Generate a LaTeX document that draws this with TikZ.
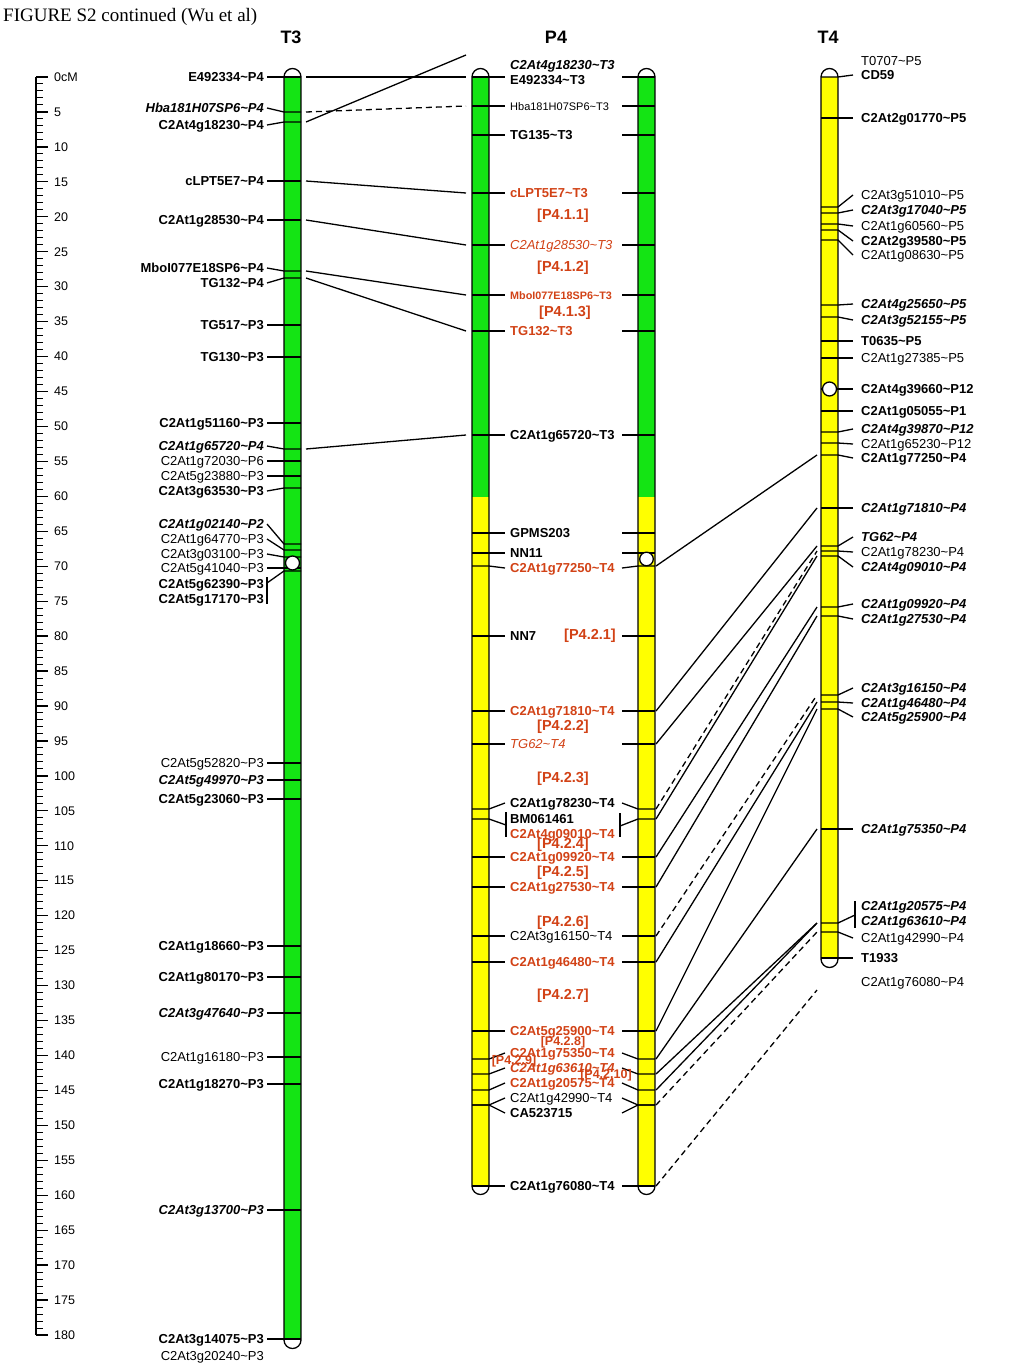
\documentclass[tikz,border=0pt]{standalone}
\usepackage{fontspec}
\setmainfont{Liberation Sans}
\newfontfamily\titlefont{Liberation Serif}
\newcommand\tld{\textasciitilde}
\definecolor{qred}{RGB}{210,66,22}
\definecolor{cgreen}{RGB}{20,228,20}
\definecolor{cyellow}{RGB}{255,255,0}
\tikzset{
 conn/.style={line width=1.3pt, black},
 dconn/.style={line width=1.3pt, black, dash pattern=on 6pt off 4pt},
 barline/.style={line width=1.3pt, black},
 mrg/.style={inner sep=0pt, font=\fontsize{13}{15}\selectfont},
 mbd/.style={inner sep=0pt, font=\fontsize{13}{15}\selectfont\bfseries},
 mbi/.style={inner sep=0pt, font=\fontsize{13}{15}\selectfont\bfseries\itshape},
 mit/.style={inner sep=0pt, font=\fontsize{13}{15}\selectfont\itshape},
 mrgs/.style={inner sep=0pt, font=\fontsize{11}{13}\selectfont},
 mbds/.style={inner sep=0pt, font=\fontsize{10.8}{13}\selectfont\bfseries},
 grp/.style={inner sep=0pt, text=qred, font=\fontsize{14.5}{16}\selectfont\bfseries},
 grps/.style={inner sep=0pt, text=qred, font=\fontsize{12.5}{14}\selectfont\bfseries},
 head/.style={inner sep=0pt, font=\fontsize{18}{20}\selectfont\bfseries, anchor=base},
 rul/.style={inner sep=0pt, font=\fontsize{12.5}{14}\selectfont, anchor=west},
}
% T3 marker: id, labelY, barY, style, text
\newcommand\mkTthree[5]{%
 \node[#4, anchor=base east] (t3#1) at (264,#2+4.6) {#5};
 \draw[conn] (267,#2) -- (284,#3) -- (301,#3);
 \coordinate (t3#1c) at (306,#3);}
% P4 marker
\newcommand\mkPfour[5]{%
 \node[#4, anchor=base west] (p4#1) at (510,#2+4.6) {#5};
 \draw[conn] (472,#3) -- (489,#3) -- (505,#2);
 \draw[conn] (622,#2) -- (638,#3) -- (655,#3);
 \coordinate (p4#1l) at (466,#3);
 \coordinate (p4#1r) at (656,#3);}
% T4 marker
\newcommand\mkTfour[5]{%
 \node[#4, anchor=base west] (t4#1) at (861,#2+4.6) {#5};
 \draw[conn] (821,#3) -- (838,#3) -- (853,#2);
 \coordinate (t4#1c) at (817,#3);}

\begin{document}
\begin{tikzpicture}[x=1pt,y=-1pt]
\useasboundingbox (0,0) rectangle (1024,1365);
\fill[white] (0,0) rectangle (1024,1365);

\node[anchor=base west, inner sep=0pt, font=\titlefont\fontsize{19}{21}\selectfont] (title) at (3,21) {FIGURE S2 continued (Wu et al)};
\node[head] (hT3) at (291,43) {T3};
\node[head] (hP4) at (556,43) {P4};
\node[head] (hT4) at (828,43) {T4};

% ruler
\draw[line width=1.4pt] (36,77) -- (36,1335);
\foreach \i in {0,...,180}{\pgfmathsetmacro\yy{77+\i*6.9889}\draw[line width=1pt] (36,\yy) -- (43,\yy);}
\foreach \i in {0,5,...,180}{\pgfmathsetmacro\yy{77+\i*6.9889}
  \draw[line width=1.3pt] (36,\yy) -- (48,\yy);
  \ifnum\i=0 \node[rul] (rl\i) at (54,\yy) {0cM};\else \node[rul] (rl\i) at (54,\yy) {\i};\fi}

% ---------- bars (fills) ----------
\fill[white] (284,77) arc[start angle=180,end angle=360,radius=8.5] -- (301,1340) arc[start angle=0,end angle=180,radius=8.5] -- cycle;
\fill[cgreen] (284,77) rectangle (301,1340);
\foreach \xl/\xr in {472/489,638/655}{
 \fill[white] (\xl,77) arc[start angle=180,end angle=360,radius=8.5] -- (\xr,1186) arc[start angle=0,end angle=180,radius=8.5] -- cycle;
 \fill[cgreen] (\xl,77) rectangle (\xr,497);
 \fill[cyellow] (\xl,497) rectangle (\xr,1186);}
\fill[white] (821,77) arc[start angle=180,end angle=360,radius=8.5] -- (838,959) arc[start angle=0,end angle=180,radius=8.5] -- cycle;
\fill[cyellow] (821,77) rectangle (838,959);

% ---------- T3 markers ----------
\mkTthree{a}{77}{77}{mbd}{E492334\tld P4}
\mkTthree{b}{108}{112}{mbi}{Hba181H07SP6\tld P4}
\mkTthree{c}{125}{122}{mbd}{C2At4g18230\tld P4}
\mkTthree{d}{181}{181}{mbd}{cLPT5E7\tld P4}
\mkTthree{e}{220}{220}{mbd}{C2At1g28530\tld P4}
\mkTthree{f}{268}{271}{mbd}{MboI077E18SP6\tld P4}
\mkTthree{g}{283}{278}{mbd}{TG132\tld P4}
\mkTthree{h}{325}{325}{mbd}{TG517\tld P3}
\mkTthree{i}{357}{357}{mbd}{TG130\tld P3}
\mkTthree{j}{423}{423}{mbd}{C2At1g51160\tld P3}
\mkTthree{k}{446}{449}{mbi}{C2At1g65720\tld P4}
\mkTthree{l}{461}{461}{mrg}{C2At1g72030\tld P6}
\mkTthree{m}{476}{476}{mrg}{C2At5g23880\tld P3}
\mkTthree{n}{491}{488}{mbd}{C2At3g63530\tld P3}
\mkTthree{o}{524}{544}{mbi}{C2At1g02140\tld P2}
\mkTthree{p}{539}{550}{mrg}{C2At1g64770\tld P3}
\mkTthree{q}{554}{557}{mrg}{C2At3g03100\tld P3}
\mkTthree{r}{568}{568}{mrg}{C2At5g41040\tld P3}
\node[mbd, anchor=base east] (t3sa) at (264,584+4.6) {C2At5g62390\tld P3};
\node[mbd, anchor=base east] (t3sb) at (264,599+4.6) {C2At5g17170\tld P3};
\draw[conn] (267,577) -- (267,604);
\draw[conn] (267,583) -- (284,571) -- (301,571);
\mkTthree{t}{763}{763}{mrg}{C2At5g52820\tld P3}
\mkTthree{u}{780}{780}{mbi}{C2At5g49970\tld P3}
\mkTthree{v}{799}{799}{mbd}{C2At5g23060\tld P3}
\mkTthree{w}{946}{946}{mbd}{C2At1g18660\tld P3}
\mkTthree{x}{977}{977}{mbd}{C2At1g80170\tld P3}
\mkTthree{y}{1013}{1013}{mbi}{C2At3g47640\tld P3}
\mkTthree{z}{1057}{1057}{mrg}{C2At1g16180\tld P3}
\mkTthree{A}{1084}{1084}{mbd}{C2At1g18270\tld P3}
\mkTthree{B}{1210}{1210}{mbi}{C2At3g13700\tld P3}
\mkTthree{C}{1339}{1339}{mbd}{C2At3g14075\tld P3}
\node[mrg, anchor=base east] (t3D) at (264,1356+4.6) {C2At3g20240\tld P3};

% ---------- P4 markers ----------
\node[mbi, anchor=base west] (p4top) at (510,65+4.6) {C2At4g18230\tld T3};
\coordinate (p4topl) at (466,55);
\node[mbd, anchor=base west] (p4a) at (510,80+4.6) {E492334\tld T3};
\draw[conn] (472,77) -- (505,77);
\draw[conn] (622,77) -- (655,77);
\coordinate (p4al) at (466,77);
\mkPfour{b}{106}{106}{mrgs}{Hba181H07SP6\tld T3}
\mkPfour{c}{135}{135}{mbd}{TG135\tld T3}
\mkPfour{d}{193}{193}{mbd,text=qred}{cLPT5E7\tld T3}
\mkPfour{e}{245}{245}{mit,text=qred}{C2At1g28530\tld T3}
\mkPfour{f}{295}{295}{mbds,text=qred}{MboI077E18SP6\tld T3}
\mkPfour{g}{331}{331}{mbd,text=qred}{TG132\tld T3}
\mkPfour{h}{435}{435}{mbd}{C2At1g65720\tld T3}
\mkPfour{i}{533}{533}{mbd}{GPMS203}
\mkPfour{j}{553}{553}{mbd}{NN11}
\mkPfour{k}{568}{566}{mbd,text=qred}{C2At1g77250\tld T4}
\mkPfour{l}{636}{636}{mbd}{NN7}
\mkPfour{m}{711}{711}{mbd,text=qred}{C2At1g71810\tld T4}
\mkPfour{n}{744}{744}{mit,text=qred}{TG62\tld T4}
\mkPfour{o}{803}{809}{mbd}{C2At1g78230\tld T4}
\node[mbd, anchor=base west] (p4pa) at (510,819+4.6) {BM061461};
\node[mbd, text=qred, anchor=base west] (p4pb) at (510,834+4.6) {C2At4g09010\tld T4};
\draw[conn] (506,812) -- (506,837);
\draw[conn] (472,819) -- (489,819) -- (506,825);
\draw[conn] (620,813) -- (620,837);
\draw[conn] (620,826) -- (638,819) -- (655,819);
\coordinate (p4pr) at (656,819);
\mkPfour{q}{857}{857}{mbd,text=qred}{C2At1g09920\tld T4}
\mkPfour{r}{887}{887}{mbd,text=qred}{C2At1g27530\tld T4}
\mkPfour{s}{936}{936}{mrg}{C2At3g16150\tld T4}
\mkPfour{t}{962}{962}{mbd,text=qred}{C2At1g46480\tld T4}
\mkPfour{u}{1031}{1031}{mbd,text=qred}{C2At5g25900\tld T4}
\mkPfour{v}{1053}{1059}{mbd,text=qred}{C2At1g75350\tld T4}
\mkPfour{w}{1068}{1074}{mbi,text=qred}{C2At1g63610\tld T4}
\mkPfour{x}{1083}{1090}{mbd,text=qred}{C2At1g20575\tld T4}
\mkPfour{y}{1098}{1105}{mrg}{C2At1g42990\tld T4}
\mkPfour{z}{1113}{1105}{mbd}{CA523715}
\mkPfour{aa}{1186}{1186}{mbd}{C2At1g76080\tld T4}

\node[grp] (g411) at (563,216) {[P4.1.1]};
\node[grp] (g412) at (563,268) {[P4.1.2]};
\node[grp] (g413) at (565,313) {[P4.1.3]};
\node[grp] (g421) at (590,636) {[P4.2.1]};
\node[grp] (g422) at (563,727) {[P4.2.2]};
\node[grp] (g423) at (563,779) {[P4.2.3]};
\node[grp] (g424) at (563,845) {[P4.2.4]};
\node[grp] (g425) at (563,873) {[P4.2.5]};
\node[grp] (g426) at (563,923) {[P4.2.6]};
\node[grp] (g427) at (563,996) {[P4.2.7]};
\node[grps] (g428) at (563,1042) {[P4.2.8]};
\node[grps] (g429) at (514,1061) {[P4.2.9]};
\node[grps] (g4210) at (606,1075) {[P4.2.10]};

% ---------- T4 markers ----------
\node[mrg, anchor=base west] (t4top) at (861,61+4.6) {T0707\tld P5};
\mkTfour{a}{75}{77}{mbd}{CD59}
\mkTfour{b}{118}{118}{mbd}{C2At2g01770\tld P5}
\mkTfour{c}{195}{207}{mrg}{C2At3g51010\tld P5}
\mkTfour{d}{210}{213}{mbi}{C2At3g17040\tld P5}
\mkTfour{e}{226}{224}{mrg}{C2At1g60560\tld P5}
\mkTfour{f}{241}{230}{mbd}{C2At2g39580\tld P5}
\mkTfour{g}{255}{240}{mrg}{C2At1g08630\tld P5}
\mkTfour{h}{304}{305}{mbi}{C2At4g25650\tld P5}
\mkTfour{i}{320}{317}{mbi}{C2At3g52155\tld P5}
\mkTfour{j}{341}{341}{mbd}{T0635\tld P5}
\mkTfour{k}{358}{358}{mrg}{C2At1g27385\tld P5}
\mkTfour{l}{389}{389}{mbd}{C2At4g39660\tld P12}
\mkTfour{m}{411}{411}{mbd}{C2At1g05055\tld P1}
\mkTfour{n}{429}{432}{mbi}{C2At4g39870\tld P12}
\mkTfour{o}{444}{443}{mrg}{C2At1g65230\tld P12}
\mkTfour{p}{458}{455}{mbd}{C2At1g77250\tld P4}
\mkTfour{q}{508}{508}{mbi}{C2At1g71810\tld P4}
\mkTfour{r}{537}{546}{mbi}{TG62\tld P4}
\mkTfour{s}{552}{551}{mrg}{C2At1g78230\tld P4}
\mkTfour{t}{567}{556}{mbi}{C2At4g09010\tld P4}
\mkTfour{u}{604}{607}{mbi}{C2At1g09920\tld P4}
\mkTfour{v}{619}{616}{mbi}{C2At1g27530\tld P4}
\mkTfour{w}{688}{695}{mbi}{C2At3g16150\tld P4}
\mkTfour{x}{703}{702}{mbi}{C2At1g46480\tld P4}
\mkTfour{y}{717}{709}{mbi}{C2At5g25900\tld P4}
\mkTfour{z}{829}{829}{mbi}{C2At1g75350\tld P4}
\node[mbi, anchor=base west] (t4Aa) at (861,906+4.6) {C2At1g20575\tld P4};
\node[mbi, anchor=base west] (t4Ab) at (861,921+4.6) {C2At1g63610\tld P4};
\draw[conn] (855,901) -- (855,928);
\draw[conn] (855,915) -- (838,923) -- (821,923);
\coordinate (t4Ac) at (817,923);
\mkTfour{B}{938}{932}{mrg}{C2At1g42990\tld P4}
\mkTfour{C}{958}{958}{mbd}{T1933}
\node[mrg, anchor=base west] (t4D) at (861,982+4.6) {C2At1g76080\tld P4};
\coordinate (t4Dc) at (817,990);

% ---------- bar outlines ----------
\draw[barline] (284,77) arc[start angle=180,end angle=360,radius=8.5] -- (301,1340) arc[start angle=0,end angle=180,radius=8.5] -- cycle;
\foreach \xl/\xr in {472/489,638/655}{
 \draw[barline] (\xl,77) arc[start angle=180,end angle=360,radius=8.5] -- (\xr,1186) arc[start angle=0,end angle=180,radius=8.5] -- cycle;}
\draw[barline] (821,77) arc[start angle=180,end angle=360,radius=8.5] -- (838,959) arc[start angle=0,end angle=180,radius=8.5] -- cycle;

% centromere circles
\draw[barline, fill=white] (292.5,563) circle[radius=7];
\draw[barline, fill=white] (646.5,559) circle[radius=6.8];
\draw[barline, fill=white] (829.5,389) circle[radius=7];

% ---------- connectors T3 -> P4 ----------
\draw[conn] (t3ac) -- (p4al);
\draw[dconn] (t3bc) -- (p4bl);
\draw[conn] (t3cc) -- (p4topl);
\draw[conn] (t3dc) -- (p4dl);
\draw[conn] (t3ec) -- (p4el);
\draw[conn] (t3fc) -- (p4fl);
\draw[conn] (t3gc) -- (p4gl);
\draw[conn] (t3kc) -- (p4hl);

% ---------- connectors P4 -> T4 ----------
\draw[conn] (p4kr) -- (t4pc);
\draw[conn] (p4mr) -- (t4qc);
\draw[conn] (p4nr) -- (t4rc);
\draw[dconn] (p4or) -- (t4sc);
\draw[conn] (p4pr) -- (t4tc);
\draw[conn] (p4qr) -- (t4uc);
\draw[conn] (p4rr) -- (t4vc);
\draw[dconn] (p4sr) -- (t4wc);
\draw[conn] (p4tr) -- (t4xc);
\draw[conn] (p4ur) -- (t4yc);
\draw[conn] (p4vr) -- (t4zc);
\draw[conn] (p4wr) -- (t4Ac);
\draw[conn] (p4xr) -- (t4Ac);
\draw[dconn] (p4yr) -- (t4Bc);
\draw[dconn] (p4aar) -- (t4Dc);
\end{tikzpicture}
\end{document}
